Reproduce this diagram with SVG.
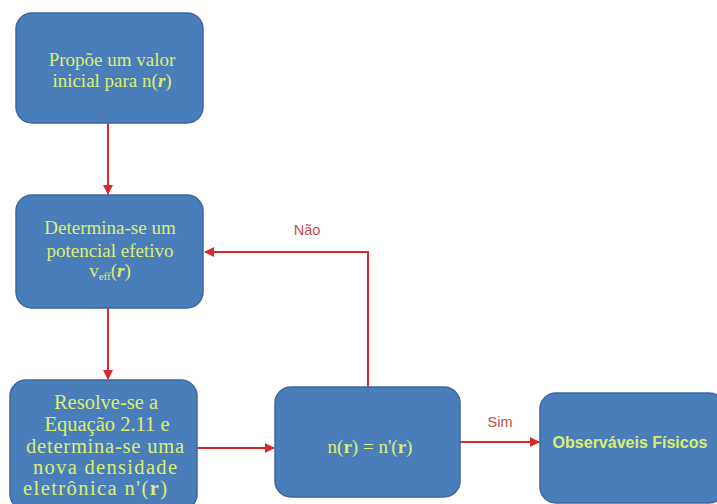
<svg xmlns="http://www.w3.org/2000/svg" width="717" height="504" viewBox="0 0 717 504">
<style>
.box{fill:#4a7ebb;stroke:#3b679c;stroke-width:1.5}
.t{font-family:"Liberation Serif","Times New Roman",serif;font-size:19px;fill:#dcee70;text-anchor:middle}
.t3{font-size:20.5px}
.b{font-weight:bold;font-style:italic}
.s{font-family:"Liberation Sans",Arial,sans-serif;font-size:16px;font-weight:bold;fill:#dcee70;text-anchor:middle}
.lbl{font-family:"Liberation Sans",Arial,sans-serif;font-size:14.5px;fill:#c0504d;text-anchor:middle}
.c{fill:none;stroke:#d9282e;stroke-width:2}
</style>
<defs>
<marker id="ah" viewBox="0 0 10 10" refX="9" refY="5" markerWidth="5" markerHeight="5" orient="auto" markerUnits="strokeWidth">
<path d="M0,0 L10,5 L0,10 z" fill="#d9282e"/>
</marker>
</defs>
<rect width="717" height="504" fill="#ffffff"/>
<g id="connectors">
<line class="c" x1="108" y1="123" x2="108" y2="194" marker-end="url(#ah)"/>
<line class="c" x1="108" y1="308" x2="108" y2="379" marker-end="url(#ah)"/>
<line class="c" x1="197" y1="448" x2="274" y2="448" marker-end="url(#ah)"/>
<polyline class="c" points="368,387 368,252 205,252" marker-end="url(#ah)"/>
<line class="c" x1="460" y1="442" x2="539" y2="442" marker-end="url(#ah)"/>
<text class="lbl" x="307" y="235">Não</text>
<text class="lbl" x="500" y="427">Sim</text>
</g>
<g id="n1">
<rect class="box" x="16" y="13" width="187" height="110" rx="16"/>
<text class="t" x="112" y="66">Propõe um valor</text>
<text class="t" x="112" y="87">inicial para n(<tspan class="b">r</tspan>)</text>
</g>
<g id="n2">
<rect class="box" x="16" y="195" width="187" height="113" rx="16"/>
<text class="t" x="110" y="234">Determina-se um</text>
<text class="t" x="110" y="257">potencial efetivo</text>
<text class="t" x="110" y="277">v<tspan font-size="11" dy="3">eff</tspan><tspan dy="-3">(</tspan><tspan class="b">r</tspan>)</text>
</g>
<g id="n3">
<rect class="box" x="10" y="380" width="187" height="130" rx="16"/>
<text class="t t3" x="106" y="409">Resolve-se a</text>
<text class="t t3" x="107" y="431">Equação 2.11 e</text>
<text class="t t3" x="105" y="453" textLength="158" lengthAdjust="spacing">determina-se uma</text>
<text class="t t3" x="105" y="474" textLength="144" lengthAdjust="spacing">nova densidade</text>
<text class="t t3" x="95" y="495" textLength="144" lengthAdjust="spacing">eletrônica n'(<tspan font-weight="bold">r</tspan>)</text>
</g>
<g id="n4">
<rect class="box" x="275" y="387" width="185" height="110" rx="16"/>
<text class="t" x="370" y="453" font-size="20">n(<tspan font-weight="bold">r</tspan>) = n'(<tspan font-weight="bold">r</tspan>)</text>
</g>
<g id="n5">
<rect class="box" x="540" y="393" width="185" height="110" rx="16"/>
<text class="s" x="630" y="448">Observáveis Físicos</text>
</g>
</svg>
